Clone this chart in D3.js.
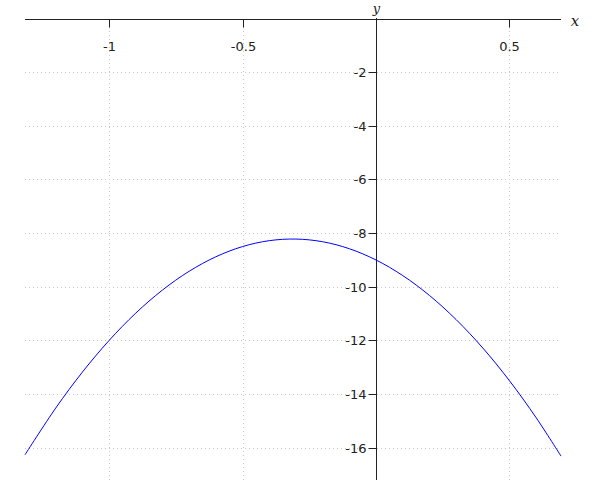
<!DOCTYPE html>
<html><head><meta charset="utf-8">
<script src="https://cdn.jsdelivr.net/npm/d3@7"></script>
<style>body{margin:0;background:#fff}svg{display:block}</style>
</head><body>
<svg id="c" width="600" height="500"></svg>
<script>
const xs = [-1.315,-1.2,-1.1,-1.0,-0.9,-0.8,-0.7,-0.6,-0.5,-0.4,-0.3,-0.2,-0.1,0,0.1,0.2,0.3,0.4,0.5,0.6,0.693];
const ys = [-16.26,-14.52,-13.18,-12,-10.98,-10.12,-9.42,-8.88,-8.5,-8.28,-8.22,-8.32,-8.58,-9,-9.58,-10.32,-11.22,-12.28,-13.5,-14.88,-16.31];
const xTicks = [-1,-0.5,0.5];
const xTickLabels = ["-1","-0.5","0.5"];
const yTicks = [-2,-4,-6,-8,-10,-12,-14,-16];
const yTickLabels = ["-2","-4","-6","-8","-10","-12","-14","-16"];

const svg = d3.select("#c");
const x = d3.scaleLinear().domain([-1.315,0.693]).range([25,561]);
const y = d3.scaleLinear().domain([0,-17.2]).range([18.5,480]);

// grid
const grid = svg.append("g").attr("stroke","#c8c8c8").attr("stroke-width",1).attr("stroke-dasharray","1,3");
grid.selectAll("line.h").data(yTicks).enter().append("line")
  .attr("x1",25).attr("x2",561).attr("y1",d=>Math.round(y(d))+0.5).attr("y2",d=>Math.round(y(d))+0.5);
grid.selectAll("line.v").data(xTicks).enter().append("line")
  .attr("y1",27).attr("y2",480).attr("x1",d=>Math.round(x(d))+0.5).attr("x2",d=>Math.round(x(d))+0.5);

// curve
const line = d3.line().x(d=>x(d[0])).y(d=>y(d[1])).curve(d3.curveCatmullRom);
svg.append("path").datum(xs.map((v,i)=>[v,ys[i]]))
  .attr("d",line).attr("fill","none").attr("stroke","#0000ff").attr("stroke-width",1);

// axes
const x0 = Math.round(x(0))+0.5, y0 = Math.round(y(0))+0.5;
svg.append("line").attr("x1",25).attr("x2",561).attr("y1",y0).attr("y2",y0).attr("stroke","#222").attr("stroke-width",1);
svg.append("line").attr("x1",x0).attr("x2",x0).attr("y1",18).attr("y2",480).attr("stroke","#222").attr("stroke-width",1);

const xa = svg.append("g");
xTicks.forEach((t,i)=>{
  const px = Math.round(x(t))+0.5;
  xa.append("line").attr("x1",px).attr("x2",px).attr("y1",y0).attr("y2",y0+8).attr("stroke","#222");
  xa.append("text").attr("x",px).attr("y",y0+31).attr("text-anchor","middle")
    .attr("font-family","DejaVu Sans").attr("font-size",13).attr("fill","#222").text(xTickLabels[i]);
});
const ya = svg.append("g");
yTicks.forEach((t,i)=>{
  const py = Math.round(y(t))+0.5;
  ya.append("line").attr("x1",x0-8).attr("x2",x0).attr("y1",py).attr("y2",py).attr("stroke","#222");
  ya.append("text").attr("x",x0-10).attr("y",py+4.8).attr("text-anchor","end")
    .attr("font-family","DejaVu Sans").attr("font-size",13).attr("fill","#222").text(yTickLabels[i]);
});
svg.append("text").attr("x",575).attr("y",26).attr("text-anchor","middle")
  .attr("font-family","DejaVu Serif").attr("font-style","italic").attr("font-size",15).attr("fill","#222").text("x");
svg.append("text").attr("x",x0).attr("y",13).attr("text-anchor","middle")
  .attr("font-family","DejaVu Serif").attr("font-style","italic").attr("font-size",13).attr("fill","#222").text("y");
</script>
</body></html>
